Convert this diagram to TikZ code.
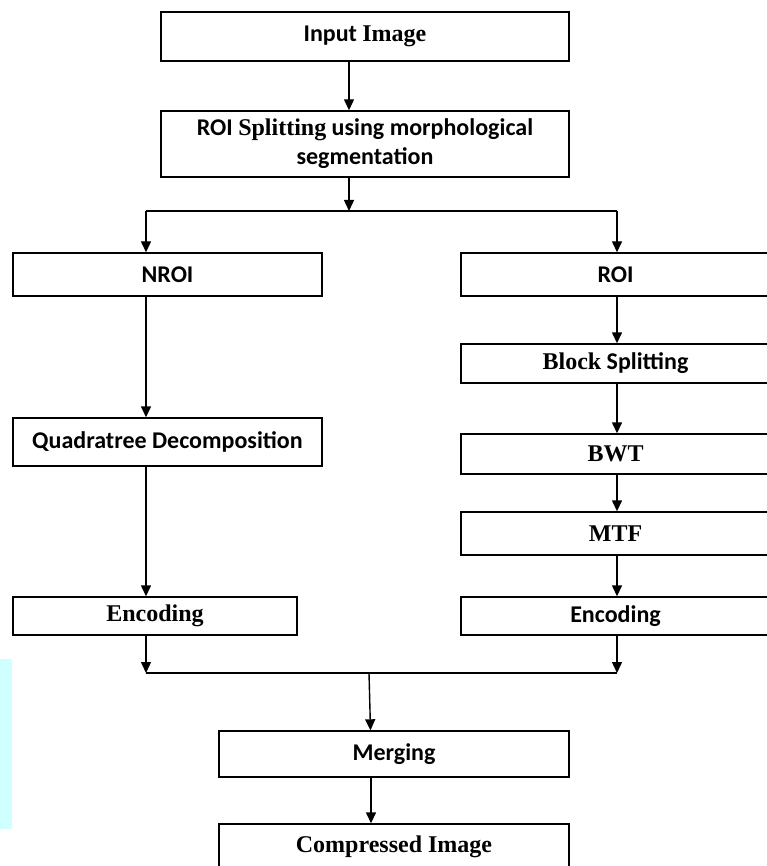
\documentclass[tikz,border=0pt]{standalone}
\usepackage{fontspec}
\setmainfont{Carlito}
\newfontfamily\serfont{Liberation Serif}
\usetikzlibrary{arrows.meta}
\definecolor{stripcyan}{RGB}{208,255,255}
\tikzset{
  box/.style={draw, line width=1.4pt, inner sep=0pt, align=center,
    font=\fontsize{24}{29}\selectfont\bfseries},
  arr/.style={line width=1.4pt, -{Triangle[width=10pt,length=11pt]}},
  link/.style={line width=1.4pt}
}
\begin{document}
\begin{tikzpicture}[x=1pt,y=-1pt]
\useasboundingbox (0,0) rectangle (767,866);

% Bande claire a gauche
\fill[stripcyan] (0,659) rectangle (12,829);

% Entree et segmentation
\node[box, minimum width=408pt, minimum height=49pt] (input) at (365,36.5) {Input {\serfont Image}};
\node[box, minimum width=408pt, minimum height=66pt] (roisplit) at (365,144) {ROI {\serfont Splitting} using morphological\\segmentation};

% Branche NROI
\node[box, minimum width=309pt, minimum height=43pt] (nroi) at (167.5,274.5) {NROI};
\node[box, minimum width=309pt, minimum height=48pt] (quad) at (167.5,442) {Quadratree Decomposition};
\node[box, minimum width=284pt, minimum height=38pt] (encl) at (155,616) {\serfont Encoding};

% Branche ROI
\node[box, minimum width=309pt, minimum height=43pt] (roi) at (615.5,274.5) {ROI};
\node[box, minimum width=309pt, minimum height=39pt] (block) at (615.5,363.5) {{\serfont Block} Splitting};
\node[box, minimum width=309pt, minimum height=40pt] (bwt) at (615.5,454) {\serfont BWT};
\node[box, minimum width=309pt, minimum height=43pt] (mtf) at (615.5,533.5) {\serfont MTF};
\node[box, minimum width=309pt, minimum height=38pt] (encr) at (615.5,616) {Encoding};

% Fusion et sortie
\node[box, minimum width=350pt, minimum height=46pt] (merging) at (394,754) {Merging};
\node[box, minimum width=350pt, minimum height=46pt] (compressed) at (394,847) {\serfont Compressed Image};

% Points de jonction
\coordinate (fork) at (349,211);
\coordinate (forkl) at (146,211);
\coordinate (forkr) at (617,211);
\coordinate (joinl) at (146,673);
\coordinate (joinr) at (617,673);
\coordinate (join) at (369,673);

% Fleches
\draw[arr] ([xshift=-16pt]input.south) -- ([xshift=-16pt]roisplit.north);
\draw[arr] ([xshift=-16pt]roisplit.south) -- (fork);
\draw[link] (forkl) -- (forkr);
\draw[arr] (forkl) -- ([xshift=-21.5pt]nroi.north);
\draw[arr] (forkr) -- ([xshift=1.5pt]roi.north);

\draw[arr] ([xshift=-21.5pt]nroi.south) -- ([xshift=-21.5pt]quad.north);
\draw[arr] ([xshift=-21.5pt]quad.south) -- ([xshift=-9pt]encl.north);

\draw[arr] ([xshift=1.5pt]roi.south) -- ([xshift=1.5pt]block.north);
\draw[arr] ([xshift=1.5pt]block.south) -- ([xshift=1.5pt]bwt.north);
\draw[arr] ([xshift=1.5pt]bwt.south) -- ([xshift=1.5pt]mtf.north);
\draw[arr] ([xshift=1.5pt]mtf.south) -- ([xshift=1.5pt]encr.north);

\draw[arr] ([xshift=-9pt]encl.south) -- (joinl);
\draw[arr] ([xshift=1.5pt]encr.south) -- (joinr);
\draw[link] (joinl) -- (joinr);
\draw[arr] (join) -- ([xshift=-23.5pt]merging.north);
\draw[arr] ([xshift=-23pt]merging.south) -- ([xshift=-23pt]compressed.north);

\end{tikzpicture}
\end{document}
